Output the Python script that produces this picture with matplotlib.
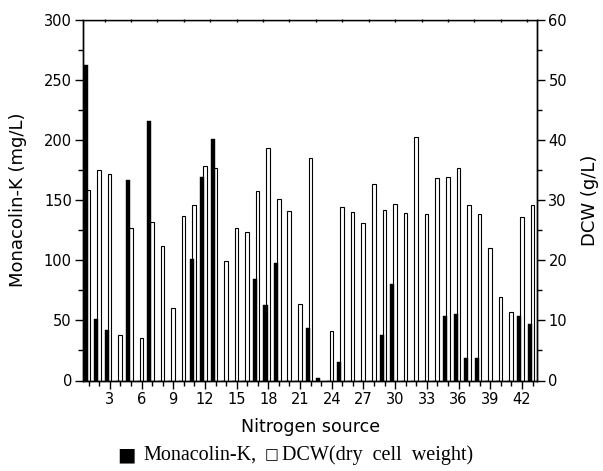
import matplotlib
matplotlib.use("Agg")
import matplotlib.pyplot as plt
import numpy as np
from matplotlib.ticker import MultipleLocator

# Nitrogen source index 1..43
sources = list(range(1, 44))
monacolin_k = [262, 51, 42, 0, 167, 0, 216, 0, 0, 0,
               101, 169, 201, 0, 0, 0, 84, 63, 98, 0,
               0, 44, 2, 0, 15, 0, 0, 0, 38, 80,
               0, 0, 0, 0, 54, 55, 19, 19, 0, 0,
               0, 54, 47]
dcw = [31.6, 35.0, 34.3, 7.6, 25.4, 7.1, 26.3, 22.3, 12.0, 27.3,
       29.1, 35.6, 35.4, 19.8, 25.3, 24.6, 31.5, 38.6, 30.2, 28.2,
       12.7, 37.0, 0.0, 8.2, 28.9, 28.0, 26.2, 32.6, 28.3, 29.4,
       27.8, 40.5, 27.6, 33.6, 33.9, 35.3, 29.1, 27.7, 22.0, 13.9,
       11.4, 27.2, 29.1]
xtick_labels = [3, 6, 9, 12, 15, 18, 21, 24, 27, 30, 33, 36, 39, 42]

plt.rcParams['font.family'] = ['DejaVu Sans']

fig = plt.figure(figsize=(6.03, 4.71), dpi=100)
ax = fig.add_axes([83/603, 1-380.5/471, (537.3-83)/603, (380.5-19.5)/471])
ax2 = ax.twinx()
ax.set_zorder(ax2.get_zorder() + 1)
ax.patch.set_visible(False)

x = np.array(sources, dtype=float)
ax2.bar(x - 0.02, dcw, width=0.34, color='white', edgecolor='black', linewidth=0.8)
ax.bar(x - 0.27, monacolin_k, width=0.38, color='black', edgecolor='black', linewidth=0.3)

ax.set_xlim(0.46, 43.45)
ax.set_ylim(0, 300)
ax2.set_ylim(0, 60)

ax.set_xticks(xtick_labels)
ax.set_xticklabels([str(v) for v in xtick_labels])
ax.xaxis.set_minor_locator(MultipleLocator(1))
ax.yaxis.set_major_locator(MultipleLocator(50))
ax.yaxis.set_minor_locator(MultipleLocator(25))
ax2.yaxis.set_major_locator(MultipleLocator(10))
ax2.yaxis.set_minor_locator(MultipleLocator(5))

fs = 10.5
ax.tick_params(axis='both', which='major', direction='out', length=6, width=1, labelsize=fs, pad=2)
ax.tick_params(axis='both', which='minor', direction='out', length=3.5, width=1)
ax2.tick_params(axis='y', which='major', direction='out', length=6, width=1, labelsize=fs, pad=2)
ax2.tick_params(axis='y', which='minor', direction='out', length=3.5, width=1)

top = ax.secondary_xaxis('top')
top.set_xticks(np.arange(2.5, 43.5, 2.5))
top.tick_params(direction='in', length=2, width=1, labeltop=False)
top.set_xticklabels([])
top.spines['top'].set_visible(False)

for a in (ax, ax2):
    for s in a.spines.values():
        s.set_linewidth(1.0)

ax.set_xlabel('Nitrogen source', fontsize=12.5, labelpad=8)
ax.set_ylabel('Monacolin-K (mg/L)', fontsize=13, labelpad=12)
ax2.set_ylabel('DCW (g/L)', fontsize=13, labelpad=10)

yl = 1 - 455/471
serif = ['Liberation Serif', 'DejaVu Serif']
fig.text(117/603, yl, '\u25A0', ha='left', va='center', fontsize=14, family=['DejaVu Sans'])
fig.text(143/603, yl, 'Monacolin-K,', ha='left', va='center', fontsize=14.5, family=serif)
fig.text(265/603, yl, '\u25A1', ha='left', va='center', fontsize=10.5, family=['DejaVu Sans'])
fig.text(282/603, yl, 'DCW(dry  cell  weight)', ha='left', va='center', fontsize=14.5, family=serif)

fig.savefig('out.png', dpi=100)
